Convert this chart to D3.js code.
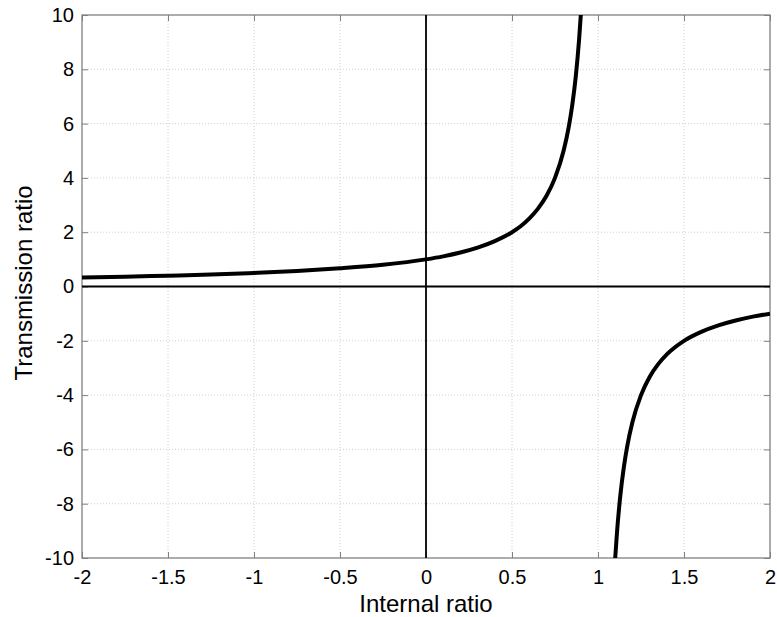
<!DOCTYPE html>
<html>
<head>
<meta charset="utf-8">
<script src="https://cdn.jsdelivr.net/npm/d3@7"></script>
<style>
  body { margin: 0; background: #fff; }
  svg text { font-family: "Liberation Sans", Arial, sans-serif; fill: #000; }
</style>
</head>
<body>
<svg id="chart" width="777" height="617"></svg>
<script>
// values: left branch (above zero) and right branch (below zero)
const leftX = [-2, -1.75, -1.5, -1.25, -1, -0.75, -0.5, -0.25, 0, 0.1, 0.2, 0.3, 0.4, 0.5, 0.55, 0.6, 0.65, 0.7, 0.75, 0.8, 0.83, 0.85, 0.87, 0.89, 0.9, 0.91];
const leftY = [0.33, 0.36, 0.4, 0.44, 0.5, 0.57, 0.67, 0.8, 1, 1.11, 1.25, 1.43, 1.67, 2, 2.22, 2.5, 2.86, 3.33, 4, 5, 5.88, 6.67, 7.69, 9.09, 10, 11.1];
const rightX = [1.09, 1.1, 1.11, 1.13, 1.15, 1.17, 1.2, 1.25, 1.3, 1.35, 1.4, 1.5, 1.6, 1.7, 1.8, 1.9, 2];
const rightY = [-11.1, -10, -9.09, -7.69, -6.67, -5.88, -5, -4, -3.33, -2.86, -2.5, -2, -1.67, -1.43, -1.25, -1.11, -1];
const xTicks = [-2, -1.5, -1, -0.5, 0, 0.5, 1, 1.5, 2];
const yTicks = [-10, -8, -6, -4, -2, 0, 2, 4, 6, 8, 10];

const svg = d3.select('#chart');
const margin = {left: 82, right: 7, top: 15, bottom: 59};
const width = 777 - margin.left - margin.right;
const height = 617 - margin.top - margin.bottom;

const x = d3.scaleLinear().domain([-2, 2]).range([0, width]);
const y = d3.scaleLinear().domain([-10, 10]).range([height, 0]);

const g = svg.append('g').attr('transform', `translate(${margin.left},${margin.top})`);

g.append('clipPath').attr('id', 'plot-clip')
  .append('rect').attr('width', width).attr('height', height);

// grid
g.append('g').selectAll('line').data(xTicks.slice(1, -1)).enter().append('line')
  .attr('x1', d => x(d)).attr('x2', d => x(d)).attr('y1', 0).attr('y2', height)
  .attr('stroke', '#d0d0d0').attr('stroke-width', 1).attr('stroke-dasharray', '1,2');
g.append('g').selectAll('line').data(yTicks.slice(1, -1)).enter().append('line')
  .attr('y1', d => y(d)).attr('y2', d => y(d)).attr('x1', 0).attr('x2', width)
  .attr('stroke', '#d0d0d0').attr('stroke-width', 1).attr('stroke-dasharray', '1,2');

// axes (box with ticks pointing inward)
const axisColor = '#808080';
const tickFmt = d => String(d);
const styleAxis = sel => {
  sel.select('.domain').remove();
  sel.attr('font-family', null).attr('font-size', null);
  sel.selectAll('.tick line').attr('stroke', axisColor);
  sel.selectAll('.tick text').attr('font-size', 20).attr('fill', '#000');
};
g.append('g').attr('transform', `translate(0,${height})`)
  .call(d3.axisBottom(x).tickValues(xTicks).tickFormat(tickFmt).tickSizeInner(-6).tickPadding(12))
  .call(styleAxis);
g.append('g')
  .call(d3.axisLeft(y).tickValues(yTicks).tickFormat(tickFmt).tickSizeInner(-6).tickPadding(8))
  .call(styleAxis);
g.append('g')
  .call(d3.axisTop(x).tickValues(xTicks).tickFormat('').tickSizeInner(-6))
  .call(styleAxis);
g.append('g').attr('transform', `translate(${width},0)`)
  .call(d3.axisRight(y).tickValues(yTicks).tickFormat('').tickSizeInner(-6))
  .call(styleAxis);

g.append('rect').attr('width', width).attr('height', height)
  .attr('fill', 'none').attr('stroke', axisColor).attr('stroke-width', 1.3);

// zero lines
g.append('line').attr('x1', x(0)).attr('x2', x(0)).attr('y1', 0).attr('y2', height)
  .attr('stroke', '#000').attr('stroke-width', 1.8);
g.append('line').attr('x1', 0).attr('x2', width).attr('y1', y(0)).attr('y2', y(0))
  .attr('stroke', '#000').attr('stroke-width', 1.8);

// curve
const line = d3.line().x(d => x(d[0])).y(d => y(d[1])).curve(d3.curveMonotoneX);
const curves = g.append('g').attr('clip-path', 'url(#plot-clip)');
curves.append('path').datum(d3.zip(leftX, leftY)).attr('d', line)
  .attr('fill', 'none').attr('stroke', '#000').attr('stroke-width', 4);
curves.append('path').datum(d3.zip(rightX, rightY)).attr('d', line)
  .attr('fill', 'none').attr('stroke', '#000').attr('stroke-width', 4);

// labels
svg.append('text').attr('x', margin.left + width / 2).attr('y', 612)
  .attr('text-anchor', 'middle').attr('font-size', 24).text('Internal ratio');
svg.append('text').attr('transform', `translate(32,283) rotate(-90)`)
  .attr('text-anchor', 'middle').attr('font-size', 24).text('Transmission ratio');
</script>
</body>
</html>
